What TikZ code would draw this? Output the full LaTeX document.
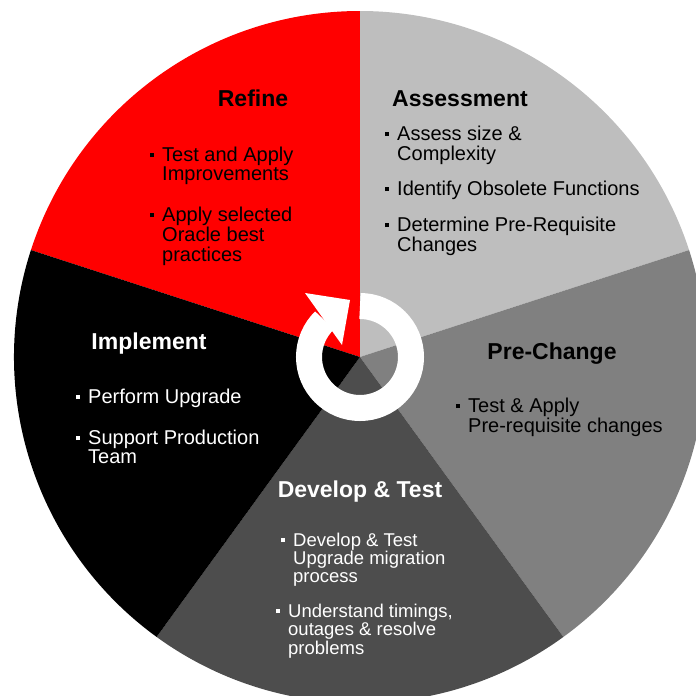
\documentclass[tikz,border=0pt]{standalone}
\usepackage{fontspec}
\setmainfont{Liberation Sans}
\definecolor{refred}{RGB}{255,0,0}
\definecolor{lgray}{RGB}{190,190,190}
\definecolor{mgray}{RGB}{128,128,128}
\definecolor{dgray}{RGB}{77,77,77}
\newcommand{\sqb}{\rule[4pt]{4pt}{4pt}\hspace{8pt}}
\newcommand{\lines}[1]{\begin{tabular}[t]{@{}l@{}}#1\end{tabular}}
\begin{document}
\begin{tikzpicture}[
        x=1pt, y=1pt,
        ttl/.style={font=\fontsize{23}{23}\selectfont\bfseries, inner sep=0pt, anchor=base},
        itm/.style={font=\fontsize{20}{19.5}\selectfont, inner sep=0pt, anchor=base west, align=left},
        itmsm/.style={font=\fontsize{18.5}{18}\selectfont, inner sep=0pt, anchor=base west, align=left}]

  \useasboundingbox (0,-696) rectangle (696,0);
  \clip (0,-696) rectangle (696,0);
  \coordinate (C) at (360,-357);

  % five sectors --------------------------------------------
  \foreach \a/\col in {90/refred, 18/lgray, -54/mgray, -126/dgray, 162/black}
    \fill[\col] (C) -- ++(\a:346) arc[start angle=\a, end angle=\a+72, radius=346] -- cycle;

  % circular arrow in the middle ----------------------------
  \draw[white, line width=26pt] ([shift={(90:51)}]C) arc[start angle=90, end angle=-226, radius=51];
  \coordinate (hA) at (305,-293);
  \coordinate (hB) at (350,-300);
  \coordinate (hC) at (342,-345);
  \fill[white] (hA) -- (hB) -- (hC) -- cycle;

  % titles --------------------------------------------------
  \node[ttl] (refine) at (253,-106) {Refine};
  \node[ttl] (assess) at (460,-106) {Assessment};
  \node[ttl] (prechg) at (552,-359) {Pre-Change};
  \node[ttl, white] (implem) at (149,-349) {Implement};
  \node[ttl, white] (devtst) at (360,-497) {Develop \& Test};

  % bullet points -------------------------------------------
  \node[itm] (refA) at (150,-161) {\sqb\lines{Test and Apply\\Improvements}};
  \node[itm] (refB) at (150,-221) {\sqb\lines{Apply selected\\Oracle best\\practices}};

  \node[itm] (assA) at (385,-140) {\sqb\lines{Assess size \&\\Complexity}};
  \node[itm] (assB) at (385,-195) {\sqb\lines{Identify Obsolete Functions}};
  \node[itm] (assC) at (385,-231) {\sqb\lines{Determine Pre-Requisite\\Changes}};

  \node[itm] (preA) at (456,-412) {\sqb\lines{Test \& Apply\\Pre-requisite changes}};

  \node[itm, white] (impA) at (76,-403) {\sqb\lines{Perform Upgrade}};
  \node[itm, white] (impB) at (76,-444) {\sqb\lines{Support Production\\Team}};

  \node[itmsm, white] (devA) at (281,-546) {\sqb\lines{Develop \& Test\\Upgrade migration\\process}};
  \node[itmsm, white] (devB) at (276,-617) {\sqb\lines{Understand timings,\\outages \& resolve\\problems}};

\end{tikzpicture}
\end{document}
